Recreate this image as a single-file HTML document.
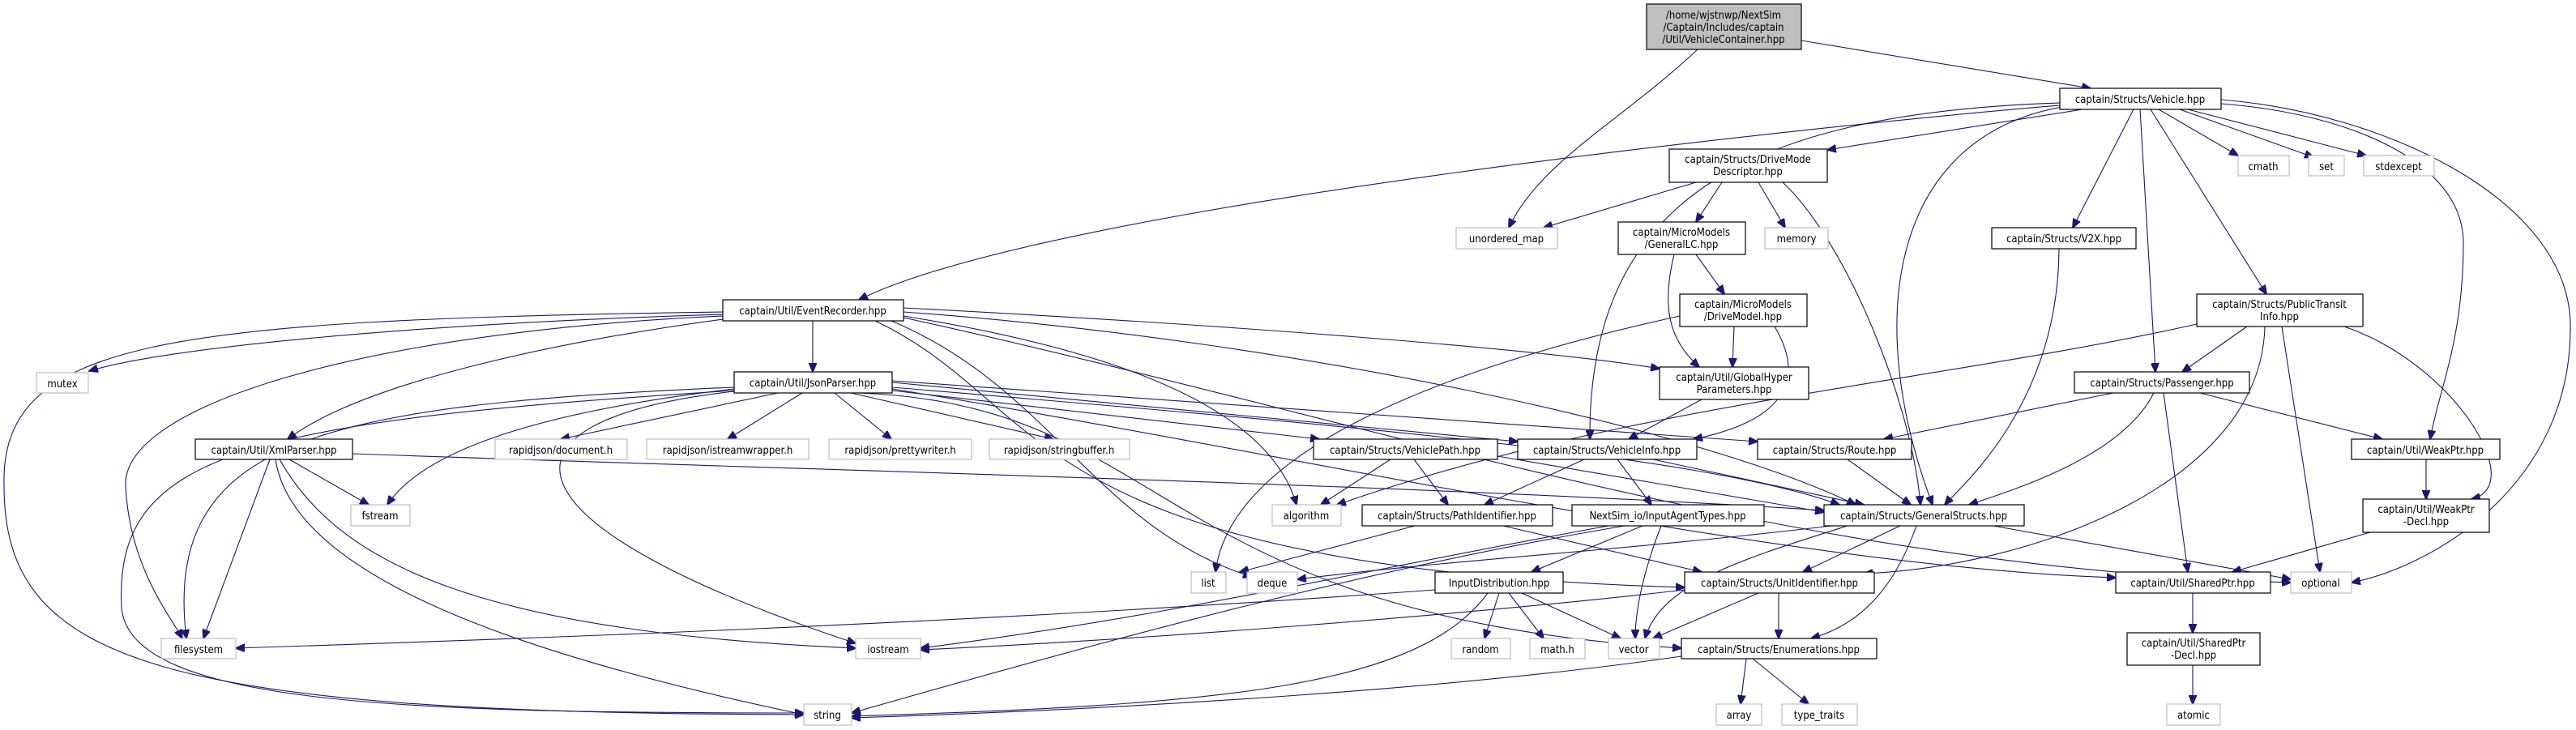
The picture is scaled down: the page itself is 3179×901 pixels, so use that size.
<!DOCTYPE html>
<html><head><meta charset="utf-8"><style>
html,body{margin:0;padding:0;background:#fff;}
svg{display:block;}
text{font-family:"DejaVu Sans Condensed","Liberation Sans Narrow","Liberation Sans",sans-serif;font-size:13px;fill:#000;text-anchor:middle;}
.n{fill:#fff;stroke:#000;stroke-width:1.2;}
.s{fill:#fff;stroke:#bfbfbf;stroke-width:1.2;}
.e{fill:none;stroke:#191970;stroke-width:1.1;marker-end:url(#a);}
</style></head><body>
<svg width="3179" height="901" viewBox="0 0 3179 901" xmlns="http://www.w3.org/2000/svg">
<defs><marker id="a" markerWidth="12" markerHeight="10" refX="11" refY="5" orient="auto" markerUnits="userSpaceOnUse"><path d="M0,0 L12,5 L0,10 z" fill="#191970" stroke="#191970"/></marker></defs>
<g>
<path class="e" d="M2223,50 L2580,109"/>
<path class="e" d="M2095,61 C2000,150 1900,200 1862,281"/>
<path class="e" d="M2542,130 C2300,150 1300,250 1060,370"/>
<path class="e" d="M2570,135 L2255,185"/>
<path class="e" d="M2542,127 C2150,140 1960,250 1962,542"/>
<path class="e" d="M2545,132 C2330,170 2300,400 2385,623"/>
<path class="e" d="M2633,135 L2558,281"/>
<path class="e" d="M2641,135 C2648,250 2655,380 2660,459"/>
<path class="e" d="M2654,135 L2797,363"/>
<path class="e" d="M2664,135 L2762,192"/>
<path class="e" d="M2690,135 L2855,194"/>
<path class="e" d="M2700,135 L2920,192"/>
<path class="e" d="M2741,128 C2900,140 3040,200 3040,300 C3040,420 3010,480 2999,542"/>
<path class="e" d="M2741,123 C2950,140 3170,250 3172,400 C3175,600 3000,700 2902,719"/>
<path class="e" d="M2093,225 L1905,281"/>
<path class="e" d="M2125,225 L2093,274"/>
<path class="e" d="M2170,225 L2203,281"/>
<path class="e" d="M2200,225 C2280,300 2360,500 2370,623"/>
<path class="e" d="M2066,314 C2050,380 2060,420 2097,453"/>
<path class="e" d="M2093,314 L2128,363"/>
<path class="e" d="M2140,403 L2138,453"/>
<path class="e" d="M2073,390 C1800,450 1520,550 1500,706"/>
<path class="e" d="M2190,403 C2230,470 2200,520 2090,542"/>
<path class="e" d="M2100,493 L2010,542"/>
<path class="e" d="M892,388 C500,400 200,430 110,458"/>
<path class="e" d="M1003,396 L1003,459"/>
<path class="e" d="M892,394 C700,420 450,470 355,542"/>
<path class="e" d="M892,385 C200,395 0,420 5,600 C5,820 200,880 992,882"/>
<path class="e" d="M892,390 C450,410 150,500 155,600 C160,700 210,760 225,788"/>
<path class="e" d="M1115,390 C1300,420 1560,480 1600,623"/>
<path class="e" d="M1115,380 C1500,400 1900,430 2048,455"/>
<path class="e" d="M1115,385 C1600,420 2100,530 2290,623"/>
<path class="e" d="M1100,396 C1300,480 1350,650 1545,712"/>
<path class="e" d="M1080,396 C1300,500 1250,700 2079,725"/>
<path class="e" d="M1115,392 C1700,520 2200,700 2827,719"/>
<path class="e" d="M960,485 L692,542"/>
<path class="e" d="M990,485 L898,542"/>
<path class="e" d="M1030,485 L1100,542"/>
<path class="e" d="M1050,485 L1300,542"/>
<path class="e" d="M906,480 C650,510 520,560 478,623"/>
<path class="e" d="M906,478 C400,500 200,540 230,788"/>
<path class="e" d="M906,482 C300,520 140,560 150,750 C160,870 500,880 992,880"/>
<path class="e" d="M1101,482 L1628,542"/>
<path class="e" d="M1101,472 L1873,545"/>
<path class="e" d="M1101,470 L2169,545"/>
<path class="e" d="M1101,478 C1600,520 2100,560 2270,623"/>
<path class="e" d="M906,483 C580,520 620,650 1056,794"/>
<path class="e" d="M1060,485 C1450,500 1420,760 2075,800"/>
<path class="e" d="M1101,480 C1600,560 2200,700 2611,713"/>
<path class="e" d="M357,567 L455,623"/>
<path class="e" d="M333,567 L251,788"/>
<path class="e" d="M340,567 C360,700 600,800 992,882"/>
<path class="e" d="M345,567 C420,700 600,780 1056,800"/>
<path class="e" d="M435,560 C1000,580 1800,600 2251,630"/>
<path class="e" d="M1716,567 L1630,623"/>
<path class="e" d="M1745,567 L1787,623"/>
<path class="e" d="M1848,563 L2251,632"/>
<path class="e" d="M1955,567 L1832,623"/>
<path class="e" d="M1996,567 L2038,623"/>
<path class="e" d="M2040,567 L2300,623"/>
<path class="e" d="M1746,649 L1530,706"/>
<path class="e" d="M1855,649 L2100,706"/>
<path class="e" d="M2027,649 L1890,706"/>
<path class="e" d="M2050,649 C2030,700 2018,750 2018,788"/>
<path class="e" d="M1985,649 C1700,700 1450,760 1136,800"/>
<path class="e" d="M2005,649 C1700,700 1400,780 1051,880"/>
<path class="e" d="M1850,732 L1832,788"/>
<path class="e" d="M1862,732 L1905,788"/>
<path class="e" d="M1878,732 L2000,788"/>
<path class="e" d="M1836,732 C1750,850 1500,870 1051,884"/>
<path class="e" d="M1771,728 C1200,770 600,790 291,800"/>
<path class="e" d="M2195,732 L2195,788"/>
<path class="e" d="M2170,732 L2040,788"/>
<path class="e" d="M2079,728 C1800,760 1400,790 1136,802"/>
<path class="e" d="M2345,649 L2225,706"/>
<path class="e" d="M2365,649 C2340,720 2300,770 2235,788"/>
<path class="e" d="M2460,649 L2827,715"/>
<path class="e" d="M2260,649 C2000,680 1800,690 1601,715"/>
<path class="e" d="M2280,649 C2150,690 2050,720 2030,788"/>
<path class="e" d="M2155,813 L2148,869"/>
<path class="e" d="M2163,813 L2232,869"/>
<path class="e" d="M2075,810 C1800,850 1400,875 1051,886"/>
<path class="e" d="M2773,403 L2693,459"/>
<path class="e" d="M2795,403 C2790,600 2500,700 2300,708"/>
<path class="e" d="M2816,403 L2863,706"/>
<path class="e" d="M2893,403 C3030,450 3120,600 3050,616"/>
<path class="e" d="M2711,400 C2400,470 2000,500 1650,623"/>
<path class="e" d="M2608,485 L2325,542"/>
<path class="e" d="M2658,485 C2620,560 2500,600 2430,623"/>
<path class="e" d="M2670,485 L2700,706"/>
<path class="e" d="M2715,485 L2940,542"/>
<path class="e" d="M2280,567 L2358,623"/>
<path class="e" d="M2994,567 L2994,616"/>
<path class="e" d="M2925,657 L2755,706"/>
<path class="e" d="M2706,732 L2706,781"/>
<path class="e" d="M2706,821 L2706,869"/>
<path class="e" d="M2541,307 C2540,500 2420,600 2400,623"/>
</g>
<g>
<rect x="2032" y="5" width="191" height="56" fill="#bfbfbf" stroke="#000" stroke-width="1.2"/>
<text x="2127" y="23">/home/wjstnwp/NextSim</text><text x="2127" y="38">/Captain/Includes/captain</text><text x="2127" y="53">/Util/VehicleContainer.hpp</text>

<rect class="n" x="2542" y="109" width="199" height="26"/><text x="2641" y="127">captain/Structs/Vehicle.hpp</text>
<rect class="s" x="1797" y="281" width="125" height="26"/><text x="1859" y="299">unordered_map</text>
<rect class="n" x="892" y="370" width="223" height="26"/><text x="1003" y="388">captain/Util/EventRecorder.hpp</text>
<rect class="n" x="2060" y="184" width="195" height="41"/><text x="2157" y="201">captain/Structs/DriveMode</text><text x="2157" y="216">Descriptor.hpp</text>
<rect class="n" x="1997" y="274" width="157" height="40"/><text x="2075" y="291">captain/MicroModels</text><text x="2075" y="306">/GeneralLC.hpp</text>
<rect class="n" x="2073" y="363" width="157" height="40"/><text x="2151" y="380">captain/MicroModels</text><text x="2151" y="395">/DriveModel.hpp</text>
<rect class="n" x="2048" y="453" width="184" height="40"/><text x="2140" y="470">captain/Util/GlobalHyper</text><text x="2140" y="485">Parameters.hpp</text>
<rect class="s" x="2178" y="281" width="78" height="26"/><text x="2217" y="299">memory</text>
<rect class="n" x="2458" y="281" width="178" height="26"/><text x="2547" y="299">captain/Structs/V2X.hpp</text>
<rect class="s" x="2762" y="192" width="63" height="25"/><text x="2793" y="210">cmath</text>
<rect class="s" x="2849" y="192" width="44" height="25"/><text x="2871" y="210">set</text>
<rect class="s" x="2917" y="192" width="87" height="25"/><text x="2960" y="210">stdexcept</text>
<rect class="n" x="2711" y="363" width="205" height="40"/><text x="2813" y="380">captain/Structs/PublicTransit</text><text x="2813" y="395">Info.hpp</text>
<rect class="s" x="45" y="460" width="64" height="25"/><text x="77" y="478">mutex</text>
<rect class="n" x="906" y="459" width="195" height="26"/><text x="1003" y="477">captain/Util/JsonParser.hpp</text>
<rect class="n" x="241" y="542" width="194" height="25"/><text x="338" y="560">captain/Util/XmlParser.hpp</text>
<rect class="s" x="611" y="542" width="163" height="25"/><text x="692" y="560">rapidjson/document.h</text>
<rect class="s" x="798" y="542" width="200" height="25"/><text x="898" y="560">rapidjson/istreamwrapper.h</text>
<rect class="s" x="1023" y="542" width="176" height="25"/><text x="1111" y="560">rapidjson/prettywriter.h</text>
<rect class="s" x="1221" y="542" width="173" height="25"/><text x="1307" y="560">rapidjson/stringbuffer.h</text>
<rect class="s" x="433" y="623" width="73" height="26"/><text x="469" y="641">fstream</text>
<rect class="s" x="199" y="788" width="92" height="25"/><text x="245" y="806">filesystem</text>
<rect class="s" x="992" y="869" width="59" height="26"/><text x="1021" y="887">string</text>
<rect class="s" x="1056" y="788" width="80" height="25"/><text x="1096" y="806">iostream</text>
<rect class="n" x="1621" y="542" width="227" height="25"/><text x="1734" y="560">captain/Structs/VehiclePath.hpp</text>
<rect class="n" x="1873" y="542" width="221" height="25"/><text x="1983" y="560">captain/Structs/VehicleInfo.hpp</text>
<rect class="s" x="1570" y="623" width="85" height="26"/><text x="1612" y="641">algorithm</text>
<rect class="n" x="1681" y="623" width="235" height="26"/><text x="1798" y="641">captain/Structs/PathIdentifier.hpp</text>
<rect class="n" x="1940" y="623" width="237" height="26"/><text x="2058" y="641">NextSim_io/InputAgentTypes.hpp</text>
<rect class="s" x="1470" y="706" width="43" height="26"/><text x="1491" y="724">list</text>
<rect class="s" x="1539" y="706" width="62" height="26"/><text x="1570" y="724">deque</text>
<rect class="n" x="1771" y="706" width="158" height="26"/><text x="1850" y="724">InputDistribution.hpp</text>
<rect class="n" x="2079" y="706" width="234" height="26"/><text x="2196" y="724">captain/Structs/UnitIdentifier.hpp</text>
<rect class="s" x="1791" y="788" width="73" height="25"/><text x="1827" y="806">random</text>
<rect class="s" x="1888" y="788" width="68" height="25"/><text x="1922" y="806">math.h</text>
<rect class="s" x="1985" y="788" width="63" height="25"/><text x="2016" y="806">vector</text>
<rect class="n" x="2075" y="788" width="241" height="25"/><text x="2195" y="806">captain/Structs/Enumerations.hpp</text>
<rect class="n" x="2560" y="459" width="216" height="26"/><text x="2668" y="477">captain/Structs/Passenger.hpp</text>
<rect class="n" x="2169" y="542" width="190" height="25"/><text x="2264" y="560">captain/Structs/Route.hpp</text>
<rect class="n" x="2902" y="542" width="183" height="25"/><text x="2993" y="560">captain/Util/WeakPtr.hpp</text>
<rect class="n" x="2251" y="623" width="247" height="26"/><text x="2374" y="641">captain/Structs/GeneralStructs.hpp</text>
<rect class="n" x="2916" y="616" width="156" height="41"/><text x="2994" y="633">captain/Util/WeakPtr</text><text x="2994" y="648">-Decl.hpp</text>
<rect class="n" x="2611" y="706" width="191" height="26"/><text x="2706" y="724">captain/Util/SharedPtr.hpp</text>
<rect class="s" x="2827" y="706" width="75" height="26"/><text x="2864" y="724">optional</text>
<rect class="n" x="2625" y="781" width="164" height="40"/><text x="2707" y="798">captain/Util/SharedPtr</text><text x="2707" y="813">-Decl.hpp</text>
<rect class="s" x="2118" y="869" width="56" height="26"/><text x="2146" y="887">array</text>
<rect class="s" x="2199" y="869" width="93" height="26"/><text x="2245" y="887">type_traits</text>
<rect class="s" x="2674" y="869" width="66" height="26"/><text x="2707" y="887">atomic</text>
</g>
</svg>
</body></html>
